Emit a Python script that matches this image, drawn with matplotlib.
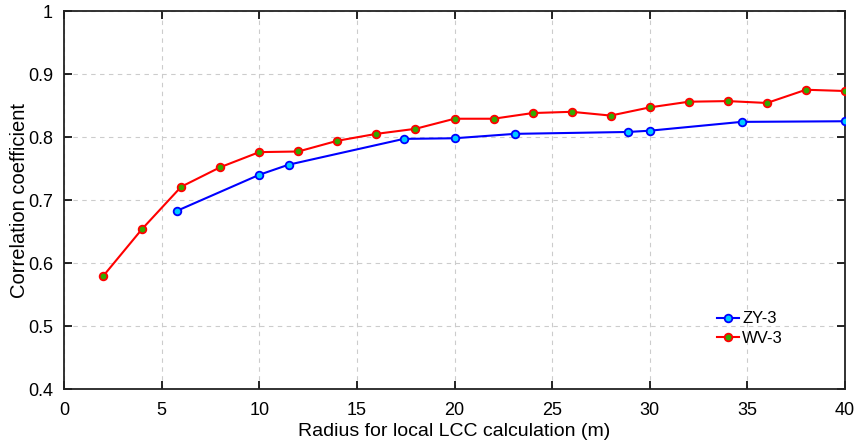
import matplotlib
matplotlib.use("Agg")
import matplotlib.pyplot as plt

plt.rcParams['font.family'] = ['Liberation Sans', 'DejaVu Sans']

zy_x = [5.8, 10.0, 11.5, 17.4, 20.0, 23.1, 28.9, 30.0, 34.7, 40.0]
zy_y = [0.683, 0.740, 0.756, 0.797, 0.798, 0.805, 0.808, 0.810, 0.824, 0.825]

wv_x = [2, 4, 6, 8, 10, 12, 14, 16, 18, 20, 22, 24, 26, 28, 30, 32, 34, 36, 38, 40]
wv_y = [0.579, 0.654, 0.721, 0.752, 0.776, 0.777, 0.794, 0.805, 0.813, 0.829,
        0.829, 0.838, 0.840, 0.834, 0.847, 0.856, 0.857, 0.854, 0.875, 0.873]

x_ticks = [0, 5, 10, 15, 20, 25, 30, 35, 40]
y_ticks = [0.4, 0.5, 0.6, 0.7, 0.8, 0.9, 1.0]
y_labels = ['0.4', '0.5', '0.6', '0.7', '0.8', '0.9', '1']

fig = plt.figure(figsize=(8.55, 4.44), dpi=100)
ax = fig.add_axes([64/855, 1 - 389/444, (845-64)/855, (389-11)/444])

ax.plot(zy_x, zy_y, '-o', color='#0000ff', lw=1.5, ms=5.5, mfc='#00ccff', mec='#0000ff', mew=1.3,
        label='ZY-3', zorder=3)
ax.plot(wv_x, wv_y, '-o', color='#ff0000', lw=1.5, ms=5.5, mfc='#33aa00', mec='#ff0000', mew=1.3,
        label='WV-3', zorder=3)

ax.set_xlim(0, 40)
ax.set_ylim(0.4, 1.0)
ax.set_xticks(x_ticks)
ax.set_yticks(y_ticks)
ax.set_yticklabels(y_labels)
ax.grid(True, ls=(0, (4, 4)), color='#cccccc', lw=0.8)
ax.tick_params(direction='in', top=True, right=True, length=6, width=1.2, labelsize=13)
ax.tick_params(axis='x', pad=9)
ax.tick_params(axis='y', pad=8)
for s in ax.spines.values():
    s.set_linewidth(1.3)
    s.set_color('#222222')

ax.set_xlabel('Radius for local LCC calculation (m)', fontsize=14, labelpad=3)
ax.set_ylabel('Correlation coefficient', fontsize=14.5, labelpad=-1)

ax.legend(loc='lower right', bbox_to_anchor=(0.94, 0.075), frameon=False, fontsize=12,
          handlelength=1.3, handletextpad=0.2, labelspacing=0.25)

fig.savefig('out.png', dpi=100)
